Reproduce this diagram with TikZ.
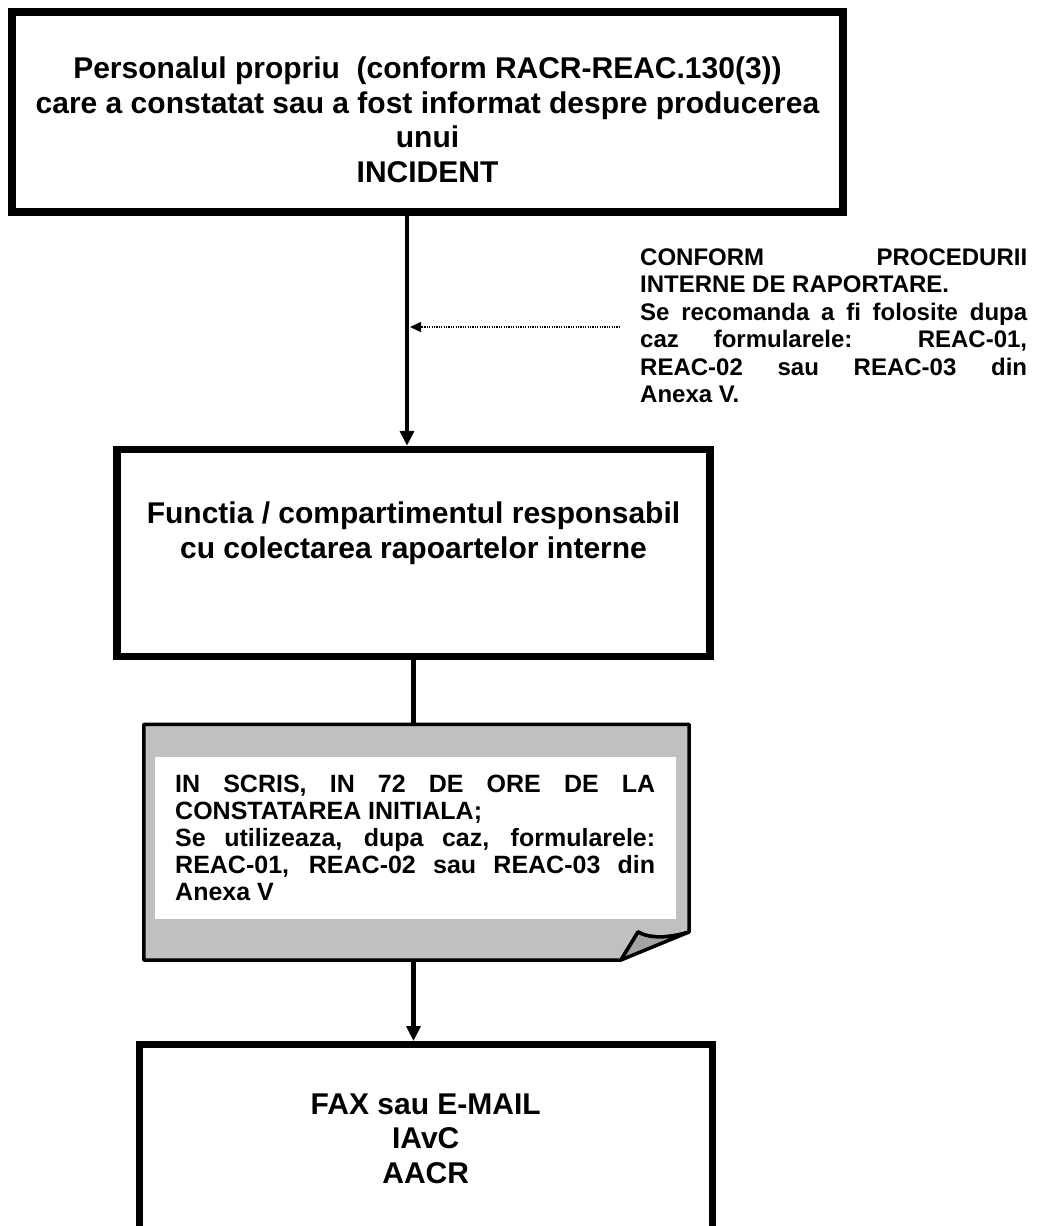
\documentclass[tikz,border=0pt]{standalone}
\usepackage{fontspec}
\setmainfont{Liberation Sans}
\usetikzlibrary{arrows.meta}
\definecolor{docgray}{HTML}{C0C0C0}
\definecolor{flapgray}{HTML}{A3A3A3}
\begin{document}
\begin{tikzpicture}[x=1pt,y=-1pt,
  box/.style={draw, line width=8pt, inner sep=0pt},
  big/.style={font=\fontsize{30}{34}\selectfont\bfseries, inner sep=0pt, anchor=base},
  doct/.style={font=\fontsize{25}{27}\selectfont\bfseries, inner sep=0pt, anchor=base west},
  notet/.style={font=\fontsize{24}{27}\selectfont\bfseries, inner sep=0pt, anchor=base west},
  flow/.style={line width=4.5pt},
  arr/.style={flow, -{Triangle[length=15pt,width=14pt]}},
  dotarr/.style={line width=1.2pt, dash pattern=on 1.2pt off 1.2pt, -{Triangle[length=11pt,width=10pt]}}
]
\useasboundingbox (0,0) rectangle (1038,1226);

% boxes
\node[box, minimum width=831pt, minimum height=200pt] (b1) at (427.5,112) {};
\node[box, line width=7.5pt, minimum width=593pt, minimum height=207pt] (b2) at (413.5,553) {};
\node[box, line width=7pt, minimum width=572.5pt, minimum height=255.5pt] (b3) at (425.75,1172.25) {};

% document shape
\node[inner sep=0pt, minimum width=545pt, minimum height=235.5pt] (doc) at (416.5,842.25) {};
\draw[line width=3.5pt, fill=docgray, line join=round]
  (doc.north west) -- (doc.north east) -- (689,932)
  .. controls (670,938) and (650,939) .. (638,932)
  -- (621,960) -- (doc.south west) -- cycle;
\draw[line width=3.5pt, fill=flapgray, line join=round]
  (621,960) -- (638,932) .. controls (650,939) and (670,938) .. (689,932) -- cycle;
\fill[white] (155,757) rectangle (676,919);

% texts box 1
\node[big] (t11) at (427.5,78.5) {Personalul propriu\ \ (conform RACR-REAC.130(3))};
\node[big] (t12) at (427.5,113) {care a constatat sau a fost informat despre producerea};
\node[big] (t13) at (427.5,147.5) {unui};
\node[big] (t14) at (427.5,182) {INCIDENT};

% texts box 2
\node[big] (t21) at (413.5,523) {Functia / compartimentul responsabil};
\node[big] (t22) at (413.5,558) {cu colectarea rapoartelor interne};

% texts box 3
\node[big] (t31) at (425.75,1114) {FAX sau E-MAIL};
\node[big] (t32) at (425.75,1148.5) {IAvC};
\node[big] (t33) at (425.75,1183) {AACR};

% document texts
\node[doct] (d1) at (175,792) {\makebox[480pt][s]{IN SCRIS, IN 72 DE ORE DE LA}};
\node[doct] (d2) at (175,819) {CONSTATAREA INITIALA;};
\node[doct] (d3) at (175,846) {\makebox[480pt][s]{Se utilizeaza, dupa caz, formularele:}};
\node[doct] (d4) at (175,873) {\makebox[480pt][s]{REAC-01, REAC-02 sau REAC-03 din}};
\node[doct] (d5) at (175,900) {Anexa V};

% side note
\node[notet] (n1) at (640,265) {\makebox[387pt][s]{CONFORM PROCEDURII}};
\node[notet] (n2) at (640,292.5) {INTERNE DE RAPORTARE.};
\node[notet] (n3) at (640,320) {\makebox[387pt][s]{Se recomanda a fi folosite dupa}};
\node[notet] (n4) at (640,347.5) {\makebox[387pt][s]{caz formularele: REAC-01,}};
\node[notet] (n5) at (640,375) {\makebox[387pt][s]{REAC-02 sau REAC-03 din}};
\node[notet] (n6) at (640,402.5) {Anexa V.};

% connectors
\coordinate (xa) at (407,0);
\coordinate (xb) at (413.5,0);
\draw[arr] (xa |- b1.south) -- (xa |- b2.north);
\draw[flow] (xb |- b2.south) -- (xb |- doc.north);
\draw[arr] (xb |- doc.south) -- (xb |- b3.north);
\coordinate (hit) at (410,327);
\draw[dotarr] (n3.west |- hit) ++(-20,0) -- (hit);
\end{tikzpicture}
\end{document}
